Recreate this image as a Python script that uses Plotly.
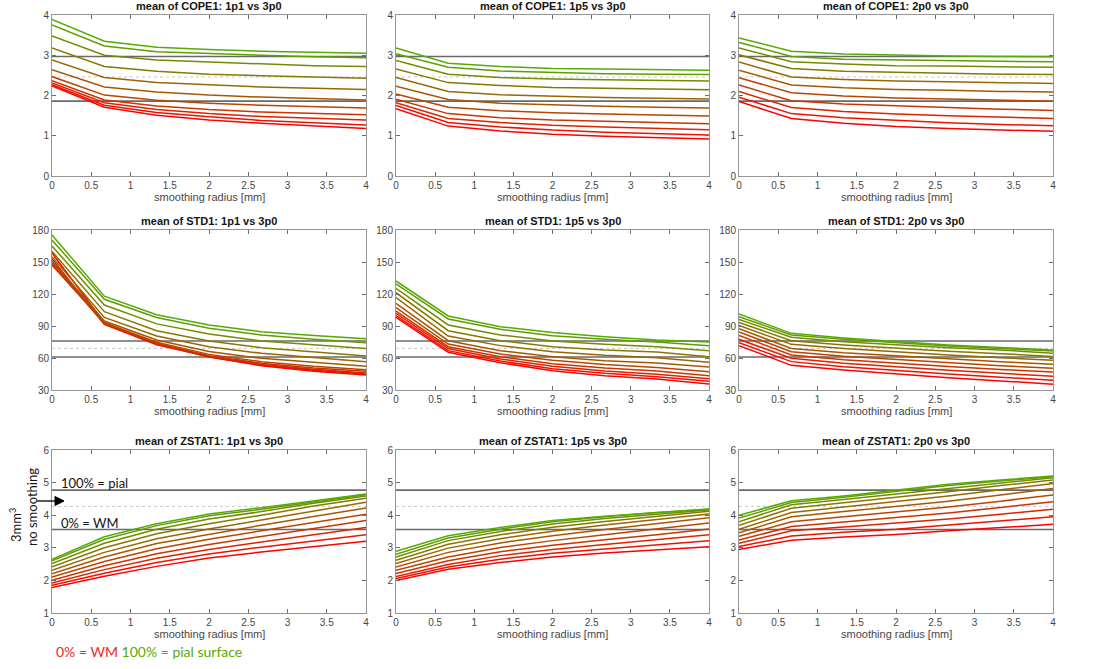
import plotly.graph_objects as go

# ---------------- data ----------------
radius = [0, 0.667, 1.333, 2, 2.667, 3.333, 4]
depth_pct = [0, 10, 20, 30, 40, 50, 60, 70, 80, 90, 100]
x_ticks = [0, 0.5, 1, 1.5, 2, 2.5, 3, 3.5, 4]
x_tick_labels = ["0", "0.5", "1", "1.5", "2", "2.5", "3", "3.5", "4"]

# rows: depth 0% (WM) ... 100% (pial); columns: radius
cope_1p1 = [
    [2.24, 1.71, 1.51, 1.39, 1.31, 1.24, 1.18],
    [2.27, 1.76, 1.58, 1.47, 1.38, 1.32, 1.27],
    [2.31, 1.82, 1.65, 1.55, 1.48, 1.43, 1.39],
    [2.37, 1.89, 1.74, 1.65, 1.59, 1.55, 1.52],
    [2.47, 2.01, 1.88, 1.81, 1.76, 1.72, 1.69],
    [2.64, 2.21, 2.09, 2.01, 1.96, 1.92, 1.89],
    [2.88, 2.45, 2.32, 2.26, 2.21, 2.18, 2.15],
    [3.18, 2.72, 2.60, 2.53, 2.49, 2.46, 2.43],
    [3.48, 3.00, 2.88, 2.83, 2.78, 2.74, 2.72],
    [3.75, 3.23, 3.09, 3.04, 3.00, 2.96, 2.94],
    [3.89, 3.35, 3.20, 3.14, 3.10, 3.08, 3.05],
]
cope_1p5 = [
    [1.67, 1.24, 1.12, 1.04, 0.99, 0.95, 0.92],
    [1.75, 1.33, 1.22, 1.14, 1.09, 1.05, 1.02],
    [1.82, 1.43, 1.33, 1.26, 1.22, 1.18, 1.15],
    [1.91, 1.55, 1.45, 1.39, 1.36, 1.33, 1.30],
    [2.04, 1.71, 1.62, 1.57, 1.54, 1.51, 1.49],
    [2.23, 1.90, 1.81, 1.77, 1.73, 1.71, 1.69],
    [2.45, 2.10, 2.02, 1.98, 1.95, 1.93, 1.91],
    [2.66, 2.32, 2.25, 2.20, 2.18, 2.16, 2.14],
    [2.87, 2.53, 2.45, 2.41, 2.39, 2.37, 2.36],
    [3.04, 2.70, 2.61, 2.57, 2.54, 2.53, 2.52],
    [3.18, 2.80, 2.72, 2.67, 2.66, 2.64, 2.63],
]
cope_2p0 = [
    [1.85, 1.43, 1.31, 1.23, 1.18, 1.14, 1.11],
    [1.96, 1.55, 1.45, 1.38, 1.32, 1.28, 1.25],
    [2.10, 1.70, 1.60, 1.54, 1.50, 1.46, 1.43],
    [2.26, 1.87, 1.79, 1.74, 1.70, 1.66, 1.63],
    [2.44, 2.07, 1.99, 1.94, 1.91, 1.88, 1.86],
    [2.63, 2.26, 2.19, 2.15, 2.13, 2.10, 2.09],
    [2.83, 2.46, 2.40, 2.36, 2.34, 2.32, 2.30],
    [3.01, 2.67, 2.60, 2.57, 2.55, 2.53, 2.52],
    [3.18, 2.84, 2.78, 2.74, 2.73, 2.72, 2.70],
    [3.32, 2.97, 2.90, 2.88, 2.86, 2.85, 2.84],
    [3.43, 3.10, 3.03, 3.00, 2.98, 2.97, 2.96],
]
std_1p1 = [
    [158.5, 93.0, 73.5, 61.0, 52.8, 47.5, 44.0],
    [153.0, 91.5, 72.5, 61.2, 53.4, 48.4, 45.0],
    [150.0, 92.0, 73.0, 61.6, 54.0, 49.4, 45.9],
    [148.0, 92.5, 73.7, 62.2, 55.0, 50.6, 47.5],
    [147.0, 93.0, 74.7, 63.4, 56.6, 52.2, 49.1],
    [151.0, 94.7, 76.9, 66.0, 59.7, 55.6, 52.2],
    [155.0, 98.0, 80.6, 70.6, 64.4, 60.3, 56.6],
    [160.0, 103.4, 85.6, 76.0, 69.7, 65.6, 61.9],
    [165.0, 109.7, 92.0, 82.5, 76.0, 72.2, 68.8],
    [170.6, 115.0, 98.0, 87.8, 81.6, 77.5, 74.4],
    [175.3, 118.0, 100.6, 91.0, 84.7, 81.0, 78.1],
]
std_1p5 = [
    [98.1, 65.3, 55.6, 48.1, 43.4, 40.3, 35.6],
    [99.7, 66.9, 57.2, 50.0, 45.6, 42.5, 38.1],
    [101.9, 68.8, 59.1, 52.2, 47.8, 44.7, 40.6],
    [104.0, 70.6, 61.2, 54.7, 50.6, 47.8, 43.4],
    [107.2, 73.1, 63.8, 57.8, 53.8, 51.2, 47.2],
    [111.2, 76.2, 66.9, 61.2, 57.5, 55.3, 51.6],
    [116.6, 80.6, 71.6, 65.9, 62.5, 60.3, 55.9],
    [121.2, 85.6, 76.2, 70.6, 67.5, 65.6, 61.2],
    [125.3, 91.0, 81.6, 76.0, 72.8, 70.6, 66.9],
    [129.4, 96.6, 86.9, 80.9, 77.5, 75.0, 71.6],
    [132.2, 99.4, 89.4, 83.8, 80.0, 76.9, 75.0],
]
std_2p0 = [
    [71.6, 53.1, 48.8, 45.0, 41.5, 38.5, 35.5],
    [74.4, 56.6, 51.9, 48.3, 45.0, 42.0, 39.2],
    [77.5, 59.7, 55.0, 51.6, 48.6, 45.6, 43.0],
    [81.2, 62.8, 58.4, 55.0, 52.0, 49.2, 46.8],
    [84.4, 65.9, 61.6, 58.5, 55.5, 52.8, 50.5],
    [87.5, 69.0, 65.0, 62.0, 59.2, 56.5, 54.2],
    [90.6, 72.8, 68.8, 65.5, 62.8, 60.3, 58.0],
    [93.4, 76.2, 72.2, 69.0, 66.3, 64.0, 61.5],
    [96.2, 79.4, 75.3, 72.2, 69.7, 67.5, 64.5],
    [98.8, 81.6, 77.5, 74.2, 71.3, 69.0, 66.5],
    [101.2, 83.1, 78.8, 75.5, 72.2, 69.8, 67.5],
]
zstat_1p1 = [
    [1.78, 2.13, 2.43, 2.69, 2.87, 3.03, 3.20],
    [1.85, 2.22, 2.55, 2.81, 3.02, 3.21, 3.40],
    [1.92, 2.33, 2.68, 2.95, 3.18, 3.40, 3.62],
    [2.00, 2.45, 2.82, 3.10, 3.35, 3.59, 3.84],
    [2.10, 2.58, 2.97, 3.26, 3.52, 3.78, 4.03],
    [2.20, 2.72, 3.13, 3.42, 3.69, 3.96, 4.22],
    [2.31, 2.86, 3.28, 3.58, 3.85, 4.13, 4.40],
    [2.42, 3.00, 3.43, 3.74, 4.00, 4.28, 4.52],
    [2.52, 3.14, 3.57, 3.88, 4.11, 4.37, 4.59],
    [2.60, 3.26, 3.68, 3.98, 4.18, 4.41, 4.63],
    [2.65, 3.34, 3.74, 4.04, 4.23, 4.43, 4.65],
]
zstat_1p5 = [
    [2.00, 2.34, 2.55, 2.72, 2.84, 2.94, 3.03],
    [2.06, 2.41, 2.65, 2.83, 2.96, 3.08, 3.22],
    [2.12, 2.49, 2.76, 2.95, 3.10, 3.24, 3.40],
    [2.21, 2.60, 2.88, 3.08, 3.25, 3.40, 3.58],
    [2.31, 2.72, 3.01, 3.22, 3.40, 3.57, 3.76],
    [2.41, 2.86, 3.15, 3.37, 3.56, 3.73, 3.92],
    [2.52, 2.99, 3.28, 3.51, 3.70, 3.87, 4.04],
    [2.62, 3.11, 3.40, 3.63, 3.81, 3.97, 4.12],
    [2.72, 3.22, 3.50, 3.73, 3.90, 4.04, 4.16],
    [2.80, 3.30, 3.57, 3.80, 3.95, 4.08, 4.18],
    [2.89, 3.37, 3.62, 3.84, 3.97, 4.09, 4.19],
]
zstat_2p0 = [
    [2.95, 3.23, 3.33, 3.41, 3.52, 3.62, 3.72],
    [3.04, 3.36, 3.48, 3.57, 3.70, 3.83, 3.95],
    [3.14, 3.52, 3.64, 3.75, 3.88, 4.03, 4.18],
    [3.24, 3.65, 3.79, 3.92, 4.07, 4.24, 4.41],
    [3.35, 3.80, 3.95, 4.09, 4.25, 4.43, 4.62],
    [3.46, 3.95, 4.11, 4.26, 4.43, 4.62, 4.82],
    [3.57, 4.08, 4.25, 4.41, 4.59, 4.78, 4.97],
    [3.69, 4.21, 4.38, 4.54, 4.72, 4.91, 5.08],
    [3.80, 4.32, 4.48, 4.65, 4.83, 5.00, 5.15],
    [3.91, 4.39, 4.55, 4.73, 4.91, 5.05, 5.18],
    [4.00, 4.44, 4.59, 4.78, 4.95, 5.08, 5.20],
]

# 3mm^3, no smoothing reference: [100% = pial, 50%, 0% = WM]
ref_cope = [2.97, 2.46, 1.86]
ref_std = [76.0, 69.0, 61.0]
ref_zstat = [4.77, 4.27, 3.56]

comparisons = ["1p1 vs 3p0", "1p5 vs 3p0", "2p0 vs 3p0"]
measures = ["COPE1", "STD1", "ZSTAT1"]
panel_data = [
    [cope_1p1, cope_1p5, cope_2p0],
    [std_1p1, std_1p5, std_2p0],
    [zstat_1p1, zstat_1p5, zstat_2p0],
]
panel_refs = [ref_cope, ref_std, ref_zstat]
y_ranges = [[0, 4], [30, 180], [1, 6]]
y_ticks = [[0, 1, 2, 3, 4], [30, 60, 90, 120, 150, 180], [1, 2, 3, 4, 5, 6]]

# ---------------- layout helpers ----------------
W, H = 1093, 669
cols_px = [(52, 366), (396, 709), (739, 1053)]
rows_px = [(15, 176), (230, 390), (450, 613)]


def px_x(p):
    return p / W


def px_y(p):
    return 1 - p / H


def depth_color(pct):
    f = pct / 100.0
    r = int(round(255 * (1 - 0.68 * f)))
    g = int(round(255 * 0.68 * f))
    return f"rgb({r},{g},0)"


fig = go.Figure()
layout = {}
annotations = []
shapes = []
tick_font = dict(family="Liberation Sans, Arial, sans-serif", size=10, color="rgb(70,70,70)")

k = 0
for ri in range(3):
    for ci in range(3):
        k += 1
        xa = "x" if k == 1 else f"x{k}"
        ya = "y" if k == 1 else f"y{k}"
        xkey = "xaxis" if k == 1 else f"xaxis{k}"
        ykey = "yaxis" if k == 1 else f"yaxis{k}"
        x0, x1 = cols_px[ci]
        y0, y1 = rows_px[ri]
        layout[xkey] = dict(
            domain=[px_x(x0), px_x(x1)], anchor=ya, range=[0, 4],
            tickvals=x_ticks, ticktext=x_tick_labels,
            ticks="inside", ticklen=4, tickcolor="rgb(110,110,110)",
            showline=True, linecolor="rgb(150,150,150)", linewidth=1, mirror="ticks",
            showgrid=False, zeroline=False, tickfont=tick_font, automargin=False,
        )
        layout[ykey] = dict(
            domain=[px_y(y1), px_y(y0)], anchor=xa, range=y_ranges[ri],
            tickvals=y_ticks[ri],
            ticks="inside", ticklen=4, tickcolor="rgb(110,110,110)",
            showline=True, linecolor="rgb(150,150,150)", linewidth=1, mirror="ticks",
            showgrid=False, zeroline=False, tickfont=tick_font, automargin=False,
        )
        refs = panel_refs[ri]
        # reference lines (3mm^3, no smoothing)
        for j, rv in enumerate(refs):
            dotted = (j == 1)
            fig.add_trace(go.Scatter(
                x=[radius[0], radius[-1]], y=[rv, rv], mode="lines",
                xaxis=xa, yaxis=ya, showlegend=False, hoverinfo="skip",
                line=dict(color="rgb(185,185,185)" if dotted else "rgb(105,105,105)",
                          width=0.8 if dotted else 1.6,
                          dash="dot" if dotted else "solid"),
            ))
        data = panel_data[ri][ci]
        for di, pct in enumerate(depth_pct):
            fig.add_trace(go.Scatter(
                x=radius, y=data[di], mode="lines", xaxis=xa, yaxis=ya,
                showlegend=False, name=f"{pct}%",
                line=dict(color=depth_color(pct), width=1.5),
            ))
        # title
        annotations.append(dict(
            text=f"<b>mean of {measures[ri]}: {comparisons[ci]}</b>",
            x=px_x((x0 + x1) / 2), y=px_y(y0 - 9), xref="paper", yref="paper",
            showarrow=False, xanchor="center", yanchor="middle",
            font=dict(family="Liberation Sans, Arial, sans-serif", size=11, color="rgb(20,20,20)"),
        ))
        annotations.append(dict(
            text="smoothing radius [mm]",
            x=px_x((x0 + x1) / 2), y=px_y(y1 + 21), xref="paper", yref="paper",
            showarrow=False, xanchor="center", yanchor="middle",
            font=dict(family="Liberation Sans, Arial, sans-serif", size=11, color="rgb(70,70,70)"),
        ))

label_font = dict(family="Lato, Open Sans, sans-serif", size=13, color="rgb(20,20,20)")
annotations += [
    dict(text="100% = pial", x=px_x(59), y=px_y(483), xref="paper", yref="paper",
         showarrow=False, xanchor="left", yanchor="middle", font=label_font),
    dict(text="0% = WM", x=px_x(59), y=px_y(523), xref="paper", yref="paper",
         showarrow=False, xanchor="left", yanchor="middle", font=label_font),
    dict(text="3mm<sup>3</sup>", x=px_x(15), y=px_y(525), xref="paper", yref="paper",
         showarrow=False, textangle=-90, xanchor="center", yanchor="middle", font=label_font),
    dict(text="no smoothing", x=px_x(32), y=px_y(507), xref="paper", yref="paper",
         showarrow=False, textangle=-90, xanchor="center", yanchor="middle", font=label_font),
    dict(text="<span style='color:rgb(240,40,40)'>0% = WM</span> "
              "<span style='color:rgb(90,170,0)'>100% = pial surface</span>",
         x=px_x(54), y=px_y(651), xref="paper", yref="paper",
         showarrow=False, xanchor="left", yanchor="middle",
         font=dict(family="Lato, Open Sans, sans-serif", size=14)),
]

# arrow pointing at the reference lines
shapes.append(dict(type="line", xref="paper", yref="paper",
                   x0=px_x(37), x1=px_x(56), y0=px_y(501), y1=px_y(501),
                   line=dict(color="black", width=1.3)))
shapes.append(dict(type="path", xref="paper", yref="paper",
                   path=(f"M {px_x(64)} {px_y(501)} L {px_x(55)} {px_y(496.5)} "
                         f"L {px_x(55)} {px_y(505.5)} Z"),
                   fillcolor="black", line=dict(color="black", width=1)))

fig.update_layout(
    width=W, height=H, margin=dict(l=0, r=0, t=0, b=0, autoexpand=False),
    paper_bgcolor="white", plot_bgcolor="white",
    annotations=annotations, shapes=shapes, **layout,
)

fig.write_html(
    "out.html",
    config={"displayModeBar": False},
    post_script="document.body.style.margin='0';document.body.style.padding='0';",
)
